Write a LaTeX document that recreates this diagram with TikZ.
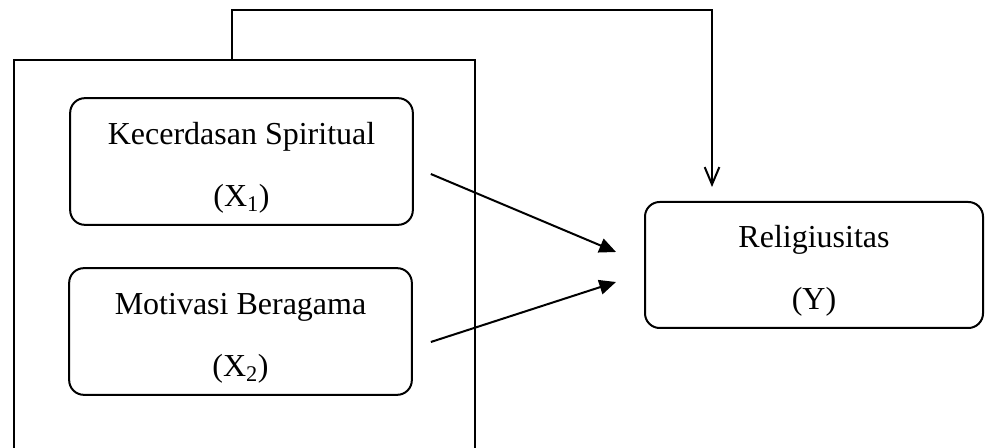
\documentclass[tikz,border=0pt]{standalone}
\usepackage{fontspec}
\setmainfont{Liberation Serif}
\usetikzlibrary{arrows.meta,calc}
\newcommand{\vargap}{\rule{0pt}{26pt}}

\begin{document}
\begin{tikzpicture}[x=0.75pt,y=-0.75pt,
  varbox/.style={draw,line width=1.5pt,rounded corners=11pt,minimum width=257pt,minimum height=95pt,align=center,font=\fontsize{24}{46.5}\selectfont},
  arr/.style={line width=1.5pt,-{Triangle[length=12.5pt,width=11pt]}},
  feed/.style={line width=1.5pt,-{Straight Barb[length=13pt,width=11pt]}}]
\useasboundingbox (0,0) rectangle (987,448);

%Shape: Rectangle
\draw [line width=1.5pt] (14,452) -- (14,60) -- (475,60) -- (475,452);
\coordinate (top) at (232,60);

% Text Node
\node [varbox] (x1) at (241.5,161.5) {\vargap Kecerdasan Spiritual\\(X\textsubscript{1})};
% Text Node
\node [varbox] (x2) at (240.5,331.5) {\vargap Motivasi Beragama\\(X\textsubscript{2})};
% Text Node
\node [varbox,minimum width=253.5pt,minimum height=94.5pt] (y) at (814,265) {\vargap Religiusitas\\(Y)};

%Straight Lines
\draw [arr] ($(x1.east)+(17,12.5)$) -- ($(y.west)+(-28,-13)$);
%Straight Lines
\draw [arr] ($(x2.east)+(18,10.5)$) -- ($(y.west)+(-28,17)$);
%Straight Lines
\draw [feed] (top) -- (232,10) -| ($(y.north)+(-102,-14)$);

\end{tikzpicture}
\end{document}
